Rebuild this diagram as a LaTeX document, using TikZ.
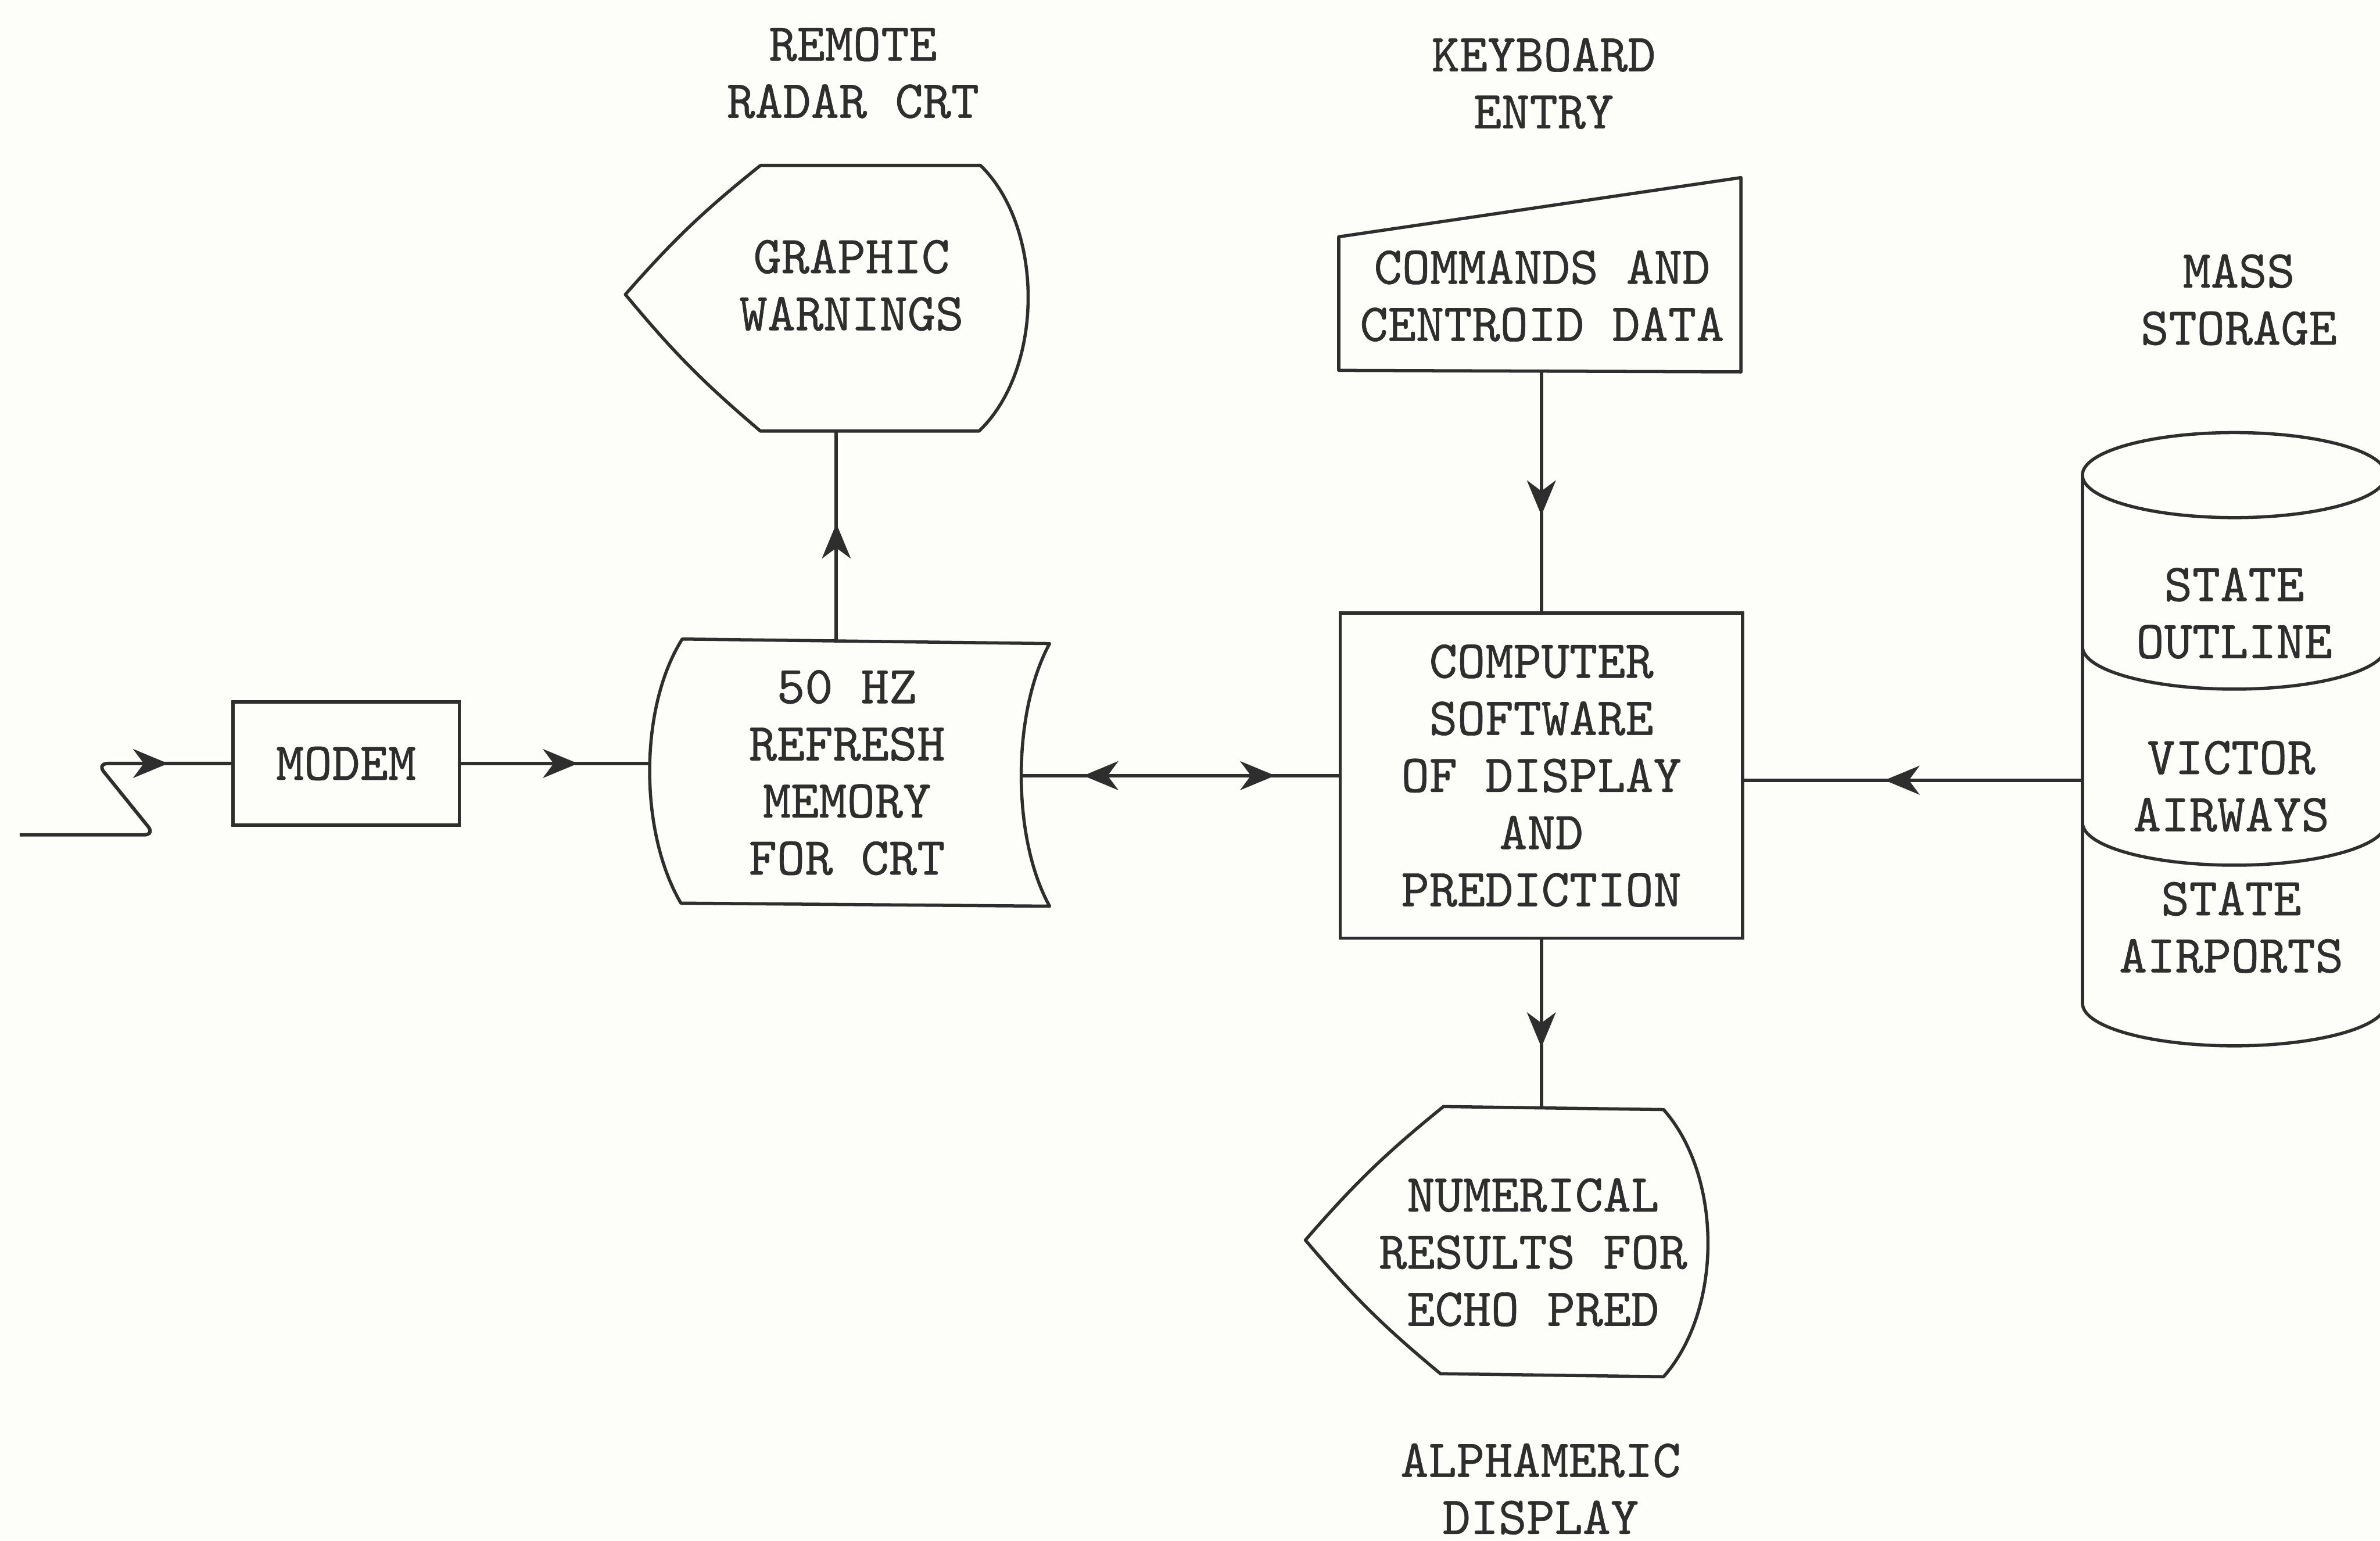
\documentclass[tikz,border=0pt]{standalone}
\usepackage{fontspec}
\newfontfamily\typew{Latin Modern Mono}[FakeBold=0.7]
\usetikzlibrary{arrows.meta,decorations.markings}
\definecolor{ink}{HTML}{2E2E2E}
\definecolor{paper}{HTML}{FDFDFA}
\tikzset{
  txt/.style={inner sep=0pt, align=center, text=ink, font=\typew\fontsize{10}{10.7}\selectfont},
  boxnode/.style={txt, draw=ink, rectangle, line width=0.6pt},
  shapeline/.style={draw=ink, line width=0.6pt, line join=round},
  conn/.style={draw=ink, line width=0.65pt},
  tipfwd/.style={postaction={decorate}, decoration={markings,
      mark=at position #1 with {\arrow{Stealth[length=2.3mm,width=1.9mm,inset=0.7mm]}}}},
  tipboth/.style 2 args={postaction={decorate}, decoration={markings,
      mark=at position #1 with {\arrowreversed{Stealth[length=2.3mm,width=1.9mm,inset=0.7mm]}},
      mark=at position #2 with {\arrow{Stealth[length=2.3mm,width=1.9mm,inset=0.7mm]}}}},
}
\begin{document}
\begin{tikzpicture}[x=0.01cm, y=-0.01cm, color=ink]
\useasboundingbox (0,0) rectangle (1568,1015);
\fill[paper] (0,0) rectangle (1568,1015);
\clip (0,0) rectangle (1568,1015);

% ---------- outside labels ----------
\node[txt] (lremote) at (562,48)   {REMOTE\\RADAR CRT};
\node[txt] (lkey)    at (1017,55)  {KEYBOARD\\ENTRY};
\node[txt] (lmass)   at (1475,197.5) {MASS\\STORAGE};
\node[txt] (lalpha)  at (1015,981) {ALPHAMERIC\\DISPLAY};

% ---------- modem ----------
\node[boxnode, minimum width=14.9mm, minimum height=8.1mm] (modem) at (228,503) {MODEM};

% ---------- computer ----------
\node[boxnode, minimum width=26.5mm, minimum height=21.4mm] (comp) at (1015.5,511)
  {COMPUTER\\SOFTWARE\\OF DISPLAY\\AND\\PREDICTION};

% ---------- graphic warnings display ----------
\coordinate (gwtl) at (501,109);
\coordinate (gwtr) at (646,109);
\coordinate (gwbr) at (645,284);
\coordinate (gwbl) at (501,284);
\coordinate (gwl)  at (412,194);
\coordinate (gws)  at (551,284);
\draw[shapeline] (gwtl) -- (gwtr) .. controls (688,150) and (688,243) .. (gwbr)
  -- (gwbl) to[bend left=5] (gwl) to[bend left=5] (gwtl) -- cycle;
\node[txt] (gwtext) at (561,188) {GRAPHIC\\WARNINGS};

% ---------- refresh memory (stored data) ----------
\coordinate (memtl) at (449.5,421);
\coordinate (memtr) at (691.5,424);
\coordinate (membr) at (691.5,597);
\coordinate (membl) at (448.6,595);
\coordinate (memw)  at (428,503);
\coordinate (meme)  at (673,511);
\coordinate (memn)  at (551,422.5);
\draw[shapeline] (memtl) -- (memtr) .. controls (666.6,470) and (666.6,552) .. (membr)
  -- (membl) .. controls (421,548) and (421,466) .. (memtl) -- cycle;
\node[txt] (memtext) at (558,509) {50 HZ\\REFRESH\\MEMORY\\FOR CRT};

% ---------- keyboard (manual input) ----------
\coordinate (kbtl) at (882,156);
\coordinate (kbtr) at (1147,117);
\coordinate (kbbr) at (1147,245);
\coordinate (kbbl) at (882,244);
\coordinate (kbs)  at (1015.5,244.5);
\draw[shapeline] (kbtl) -- (kbtr) -- (kbbr) -- (kbbl) -- cycle;
\node[txt] (kbtext) at (1016,195) {COMMANDS AND\\CENTROID DATA};

% ---------- numerical results display ----------
\coordinate (ndtl) at (951,729);
\coordinate (ndtr) at (1096,731);
\coordinate (ndbr) at (1096,907);
\coordinate (ndbl) at (949,905);
\coordinate (ndl)  at (860,817);
\coordinate (ndn)  at (1015.5,729.8);
\draw[shapeline] (ndtl) -- (ndtr) .. controls (1135,775) and (1135,863) .. (ndbr)
  -- (ndbl) to[bend left=5] (ndl) to[bend left=5] (ndtl) -- cycle;
\node[txt] (ndtext) at (1010,825) {NUMERICAL\\RESULTS FOR\\ECHO PRED};

% ---------- mass storage cylinder ----------
\coordinate (cylw) at (1372,514);
\draw[shapeline] (1472,313) ellipse [x radius=1cm, y radius=2.8mm];
\draw[shapeline] (1372,313) -- (1372,661);
\draw[shapeline] (1572,313) -- (1572,661);
\foreach \c in {426,542,661}{
  \draw[shapeline] (1372,\c) .. controls (1372,\c+15.5) and (1416.8,\c+28) .. (1472,\c+28)
    .. controls (1527.2,\c+28) and (1572,\c+15.5) .. (1572,\c);
}
\node[txt] (cyl1) at (1472,404) {STATE\\OUTLINE};
\node[txt] (cyl2) at (1470,518) {VICTOR\\AIRWAYS};
\node[txt] (cyl3) at (1470,611) {STATE\\AIRPORTS};

% ---------- connectors ----------
\coordinate (zs)  at (13,550);
\coordinate (zb)  at (102,550);
\coordinate (zt)  at (64,503);
\coordinate (zt2) at (78,503);
\draw[conn, rounded corners=0.7mm] (zs) -- (zb) -- (zt) -- (modem.west);
\draw[conn, tipfwd=0.44] (zt2) -- (modem.west);

\draw[conn, tipfwd=0.62] (modem.east) -- (memw);
\draw[conn, tipfwd=0.56] (memn) -- (gws);
\draw[conn, tipboth={0.195}{0.8}] (meme) -- (comp.west);
\draw[conn, tipfwd=0.6] (kbs) -- (comp.north);
\draw[conn, tipfwd=0.64] (comp.south) -- (ndn);
\draw[conn, tipfwd=0.585] (cylw) -- (comp.east |- cylw);
\end{tikzpicture}
\end{document}
